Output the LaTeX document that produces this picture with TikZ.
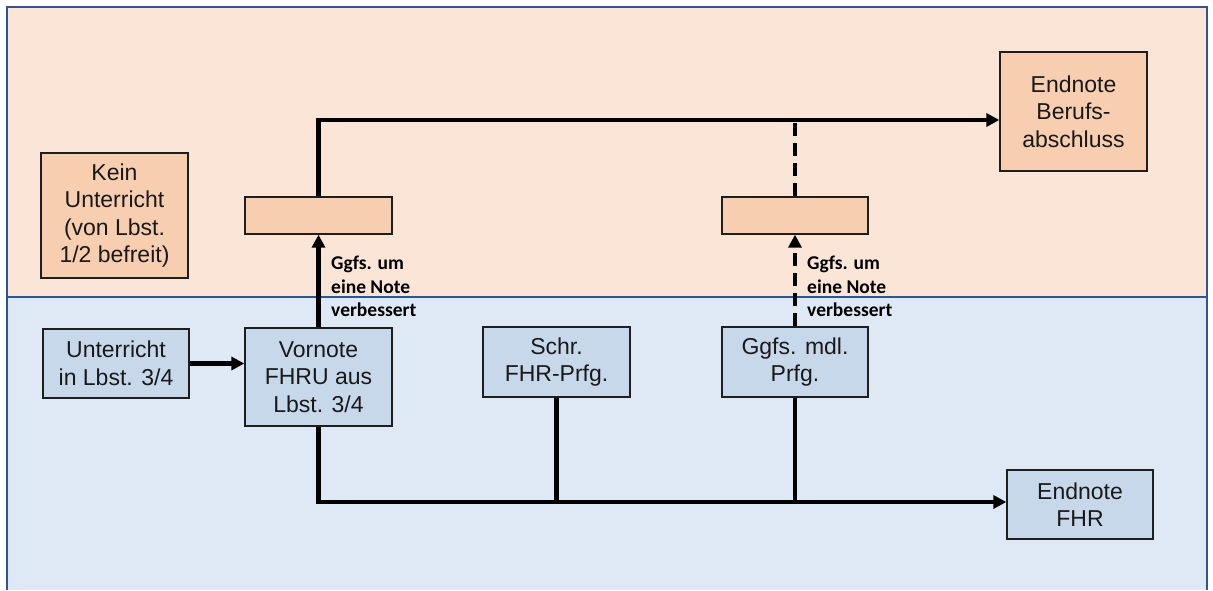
\documentclass[tikz,border=0pt]{standalone}
\usepackage{fontspec}
\setmainfont{Liberation Sans}
\newfontfamily\calib{Carlito}
\usetikzlibrary{arrows.meta}
\definecolor{peachbg}{HTML}{FBE5D6}
\definecolor{peachbox}{HTML}{F8CEB0}
\definecolor{bluebg}{HTML}{DEE9F5}
\definecolor{bluebox}{HTML}{C8D8EB}
\definecolor{frame}{HTML}{2F5597}
\definecolor{boxline}{HTML}{1E1E1E}
\tikzset{
  x=1pt,y=-1pt,
  box/.style={draw=boxline,line width=1.3pt,inner sep=0pt,align=center,
    font=\fontsize{23}{27.5}\selectfont,text=black!90},
  pbox/.style={box,fill=peachbox},
  bbox/.style={box,fill=bluebox},
  conn/.style={line width=4.3pt,black},
  arr/.style={conn,-{Triangle[length=13pt,width=13pt]}},
  dsh/.style={dash pattern=on 13pt off 7pt},
  lbl/.style={inner sep=0pt,anchor=north west,align=left,
    font=\calib\bfseries\fontsize{19.5}{23.3}\selectfont}
}
\begin{document}
\begin{tikzpicture}
\useasboundingbox (0,0) rectangle (1213,590);
\fill[peachbg] (7,7) rectangle (1207,297);
\fill[bluebg] (7,297) rectangle (1207,590);
\draw[frame,line width=1.3pt] (7,590) -- (7,7) -- (1207,7) -- (1207,590);
\draw[frame,line width=1.3pt] (7,297) -- (1207,297);

\node[pbox,minimum width=147pt,minimum height=125pt] (kein) at (114.5,215.5) {Kein\\Unterricht\\(von Lbst.\\1/2 befreit)};
\node[pbox,minimum width=147pt,minimum height=37pt] (pl) at (318.5,215.5) {};
\node[pbox,minimum width=146pt,minimum height=37pt] (pr) at (795,215.5) {};
\node[pbox,minimum width=147pt,minimum height=119pt] (beruf) at (1073.5,111.5) {Endnote\\Berufs-\\abschluss};

\node[bbox,minimum width=146pt,minimum height=69pt] (unt) at (116,363.5) {Unterricht\\in Lbst. 3/4};
\node[bbox,minimum width=147pt,minimum height=98pt] (vor) at (318.5,377) {Vornote\\FHRU aus\\Lbst. 3/4};
\node[bbox,minimum width=147pt,minimum height=70pt] (schr) at (556.5,362) {Schr.\\FHR-Prfg.};
\node[bbox,minimum width=146pt,minimum height=70pt] (mdl) at (795,362) {Ggfs. mdl.\\Prfg.};
\node[bbox,minimum width=146pt,minimum height=69pt] (fhr) at (1080,504.5) {Endnote\\FHR};

\coordinate (tl) at (318.5,120);
\coordinate (tr) at (795,120);
\coordinate (bl) at (318.5,502);
\coordinate (bs) at (556.5,502);
\coordinate (bm) at (795,502);

\draw[arr] (unt.east) -- (unt.east -| vor.west);
\draw[arr] (vor.north) -- (pl.south);
\draw[arr,dsh] (mdl.north) -- (pr.south);
\draw[arr] (pl.north) -- (tl) -- (tl -| beruf.west);
\draw[conn,dsh] (pr.north) -- (tr);
\draw[arr] (vor.south) -- (bl) -- (bl -| fhr.west);
\draw[conn] (schr.south) -- (bs);
\draw[conn] (mdl.south) -- (bm);

\node[lbl] (l1) at (331,256) {Ggfs. um\\eine Note\\verbessert};
\node[lbl] (l2) at (807,256) {Ggfs. um\\eine Note\\verbessert};
\end{tikzpicture}
\end{document}
